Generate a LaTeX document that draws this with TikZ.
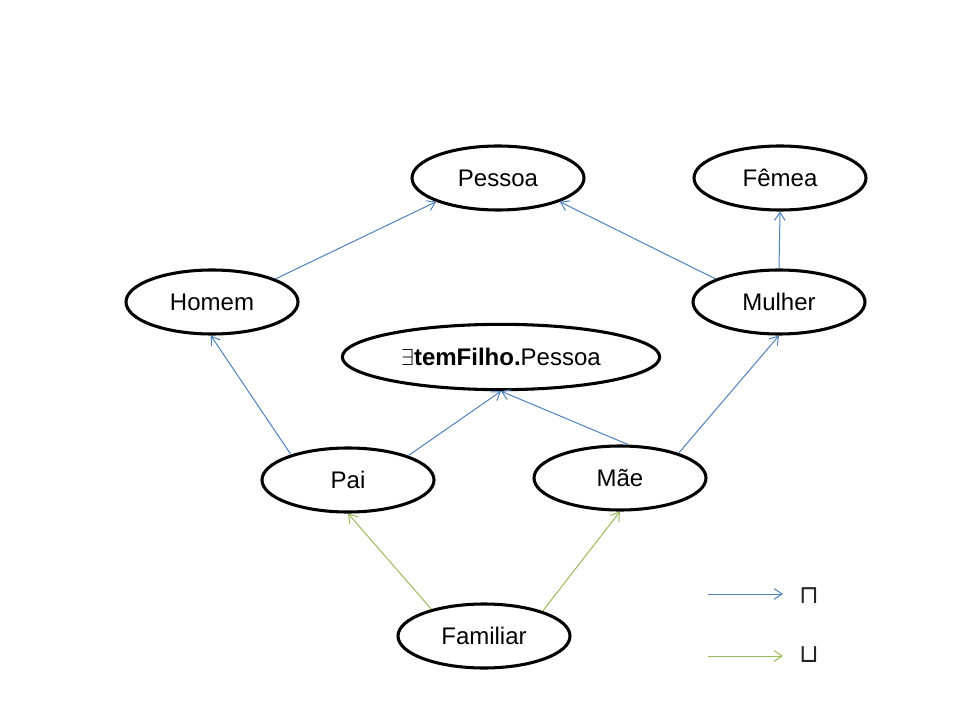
\documentclass[tikz,border=0pt]{standalone}
\usepackage{fontspec}
\setmainfont{Liberation Sans}
\newfontfamily\symfont{DejaVu Sans}
\usetikzlibrary{shapes.geometric,arrows.meta}
\definecolor{edgeblue}{HTML}{4F81BD}
\definecolor{edgegreen}{HTML}{9BBB59}
\begin{document}
\begin{tikzpicture}[x=0.75pt,y=-0.75pt,
  concept/.style={ellipse,draw=black,line width=2.3pt,minimum width=129pt,minimum height=48pt,inner sep=0pt,font=\fontsize{18}{21}\selectfont},
  wide/.style={concept,minimum width=238pt,minimum height=49pt},
  conj/.style={draw=edgeblue,line width=0.75pt,-{Straight Barb[length=6pt,width=8pt,line width=0.75pt]}},
  disj/.style={draw=edgegreen,line width=0.75pt,-{Straight Barb[length=6pt,width=8pt,line width=0.75pt]}},
  legsym/.style={font=\symfont\fontsize{19}{22}\selectfont,text=black!85,inner sep=0pt}
]
\useasboundingbox (0,0) rectangle (960,720);
\node[concept] (pessoa) at (498,178) {Pessoa};
\node[concept] (femea) at (780,178) {Fêmea};
\node[concept] (homem) at (212,302) {Homem};
\node[concept] (mulher) at (779,302) {Mulher};
\node[wide] (existe) at (501,357) {$\exists$\textbf{temFilho.}Pessoa};
\node[concept] (pai) at (348,480) {Pai};
\node[concept] (mae) at (620,478) {Mãe};
\node[concept] (familiar) at (484,636) {Familiar};

\draw[conj] (homem.20.6) -- (pessoa.201.8);
\draw[conj] (mulher.160.2) -- (pessoa.339.1);
\draw[conj] (mulher.90) -- (femea.270);
\draw[conj] (pai.156.1) -- (homem.268);
\draw[conj] (pai.22) -- (existe.270);
\draw[conj] (mae.76) -- (existe.270);
\draw[conj] (mae.23.2) -- (mulher.270);
\draw[disj] (familiar.153.8) -- (pai.270);
\draw[disj] (familiar.23.5) -- (mae.270);

\coordinate (l1a) at (708,594);
\coordinate (l1b) at (783,594);
\coordinate (l2a) at (708,656);
\coordinate (l2b) at (783,656);
\draw[conj] (l1a) -- (l1b);
\draw[disj] (l2a) -- (l2b);
\node[legsym] (meet) at (809,596) {⊓};
\node[legsym] (join) at (809,655) {⊔};
\end{tikzpicture}
\end{document}
